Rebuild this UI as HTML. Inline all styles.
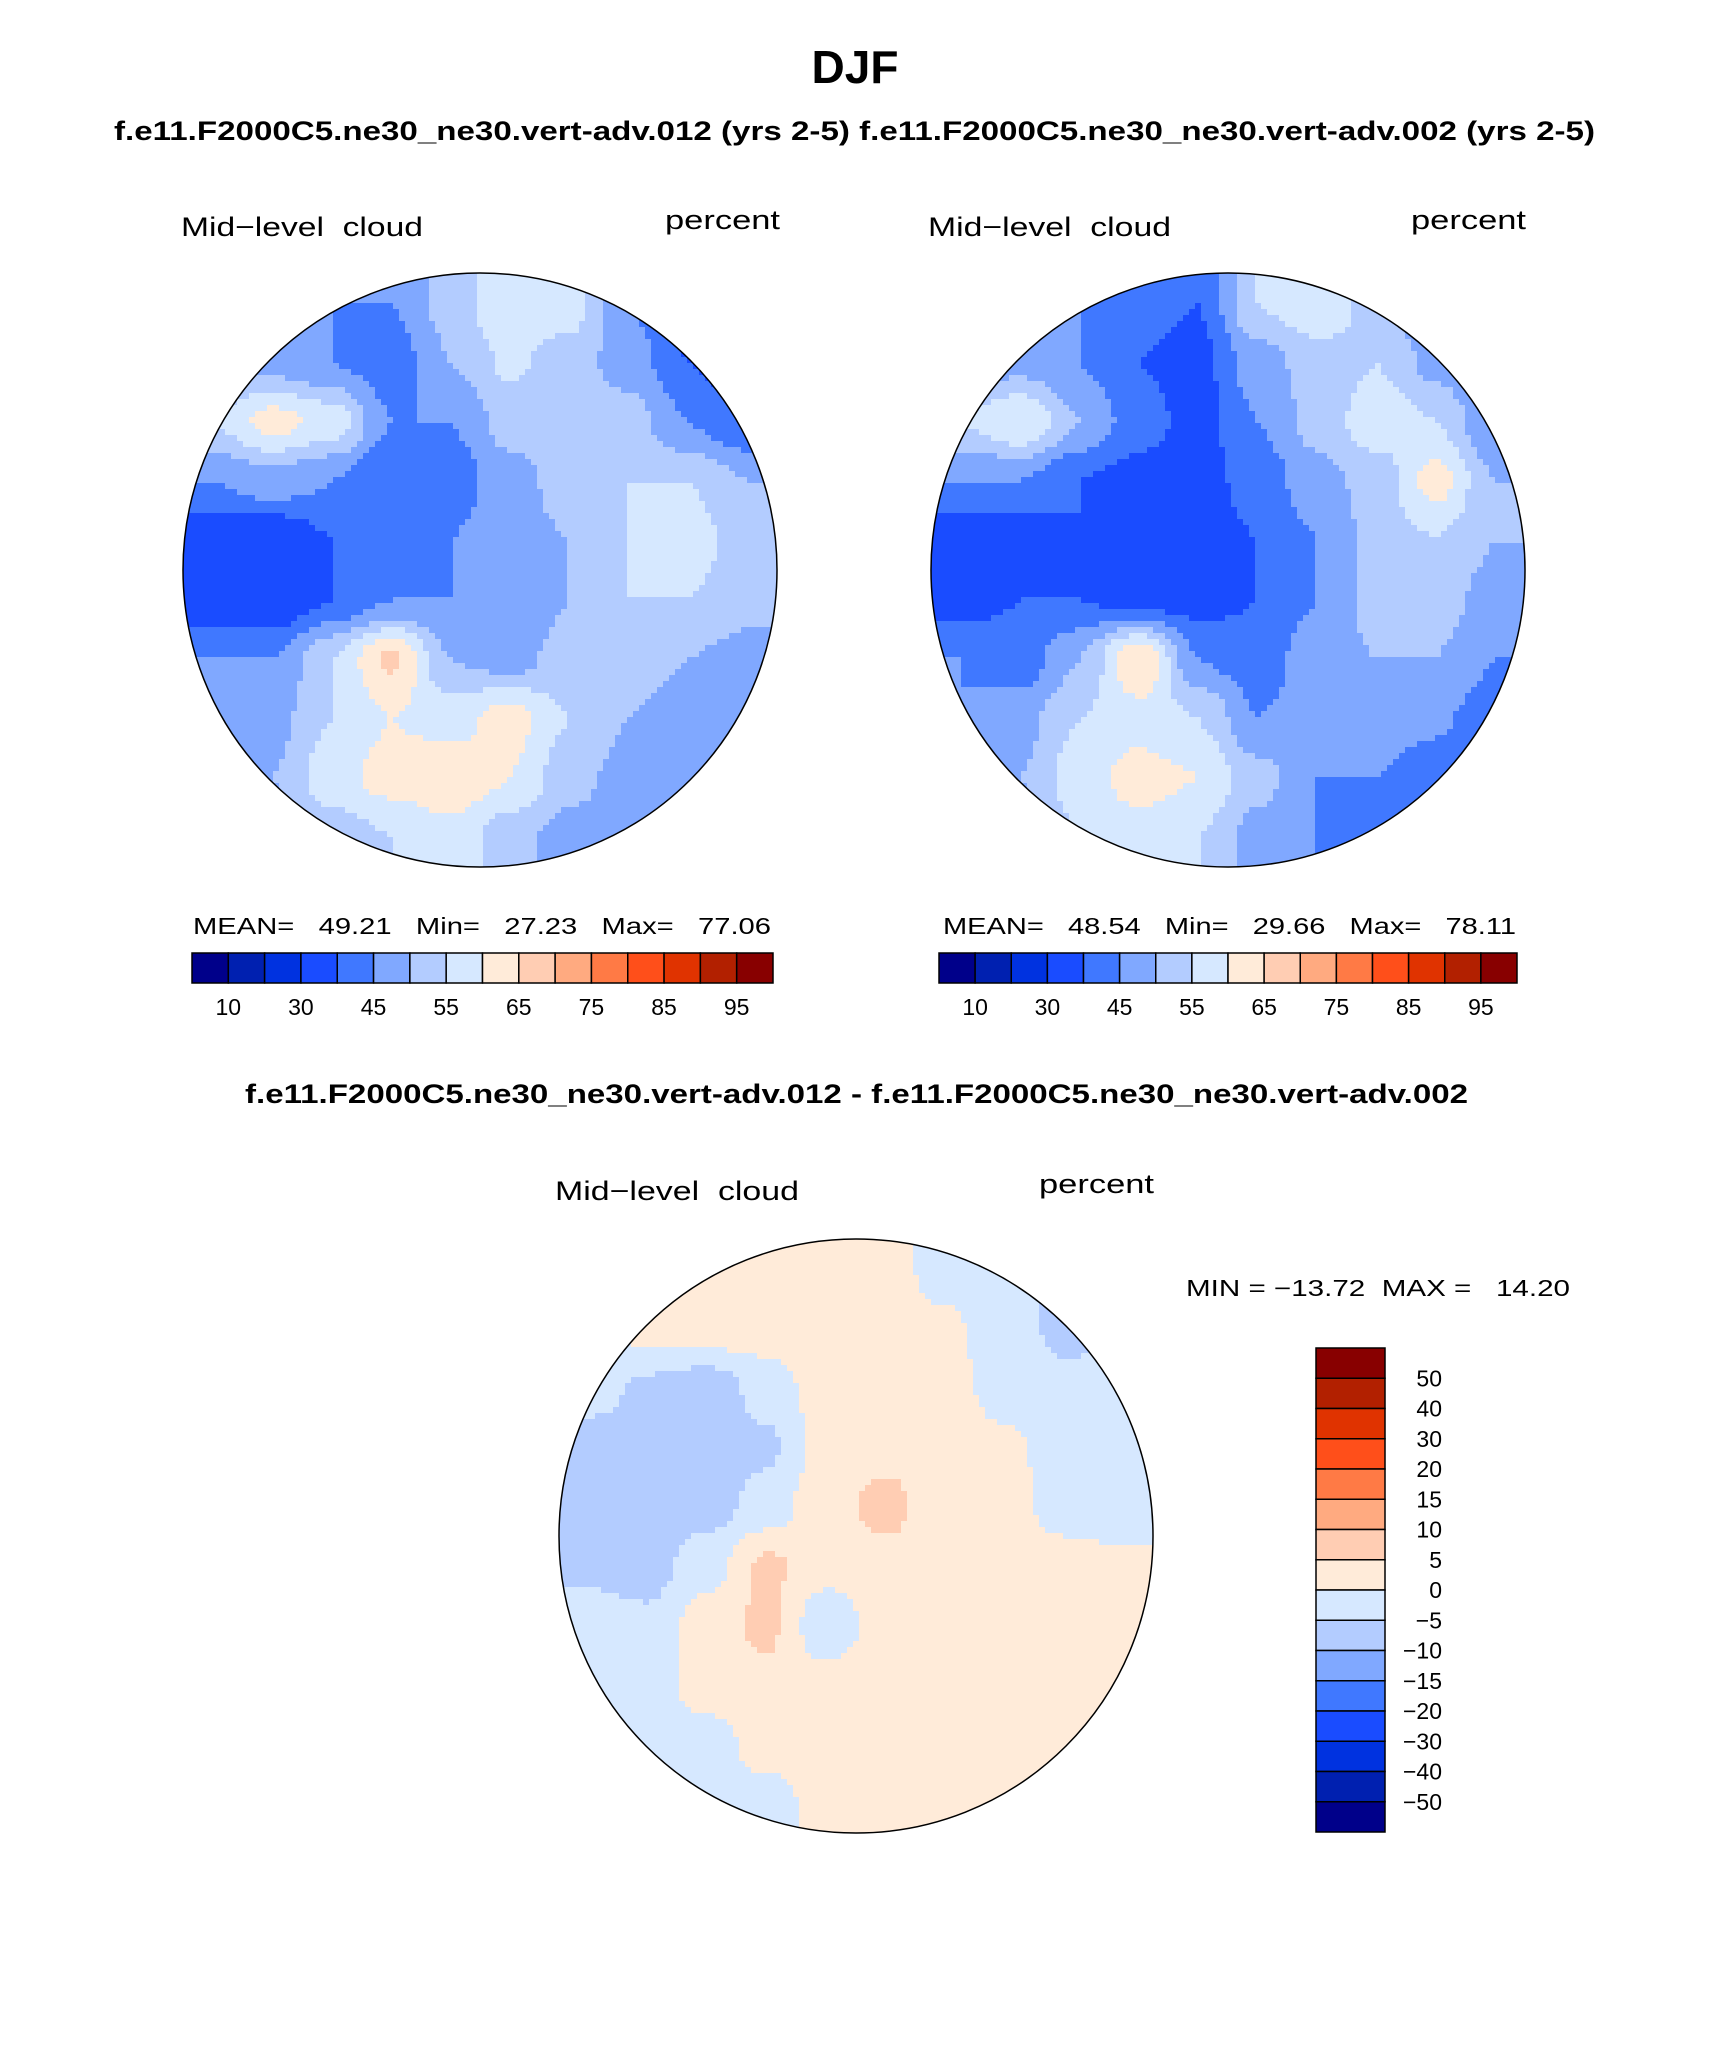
<!DOCTYPE html>
<html><head><meta charset="utf-8"><style>
html,body{margin:0;padding:0;background:#fff}
svg text{font-family:"Liberation Sans",sans-serif;white-space:pre}
</style></head><body>
<svg id="fig" width="1710" height="2061" xmlns="http://www.w3.org/2000/svg">
<rect width="1710" height="2061" fill="#fff"/>
<text x="855" y="83" font-size="46" font-weight="bold" text-anchor="middle">DJF</text>
<text x="114" y="140" font-size="27" font-weight="bold" textLength="1481" lengthAdjust="spacingAndGlyphs">f.e11.F2000C5.ne30_ne30.vert-adv.012 (yrs 2-5) f.e11.F2000C5.ne30_ne30.vert-adv.002 (yrs 2-5)</text>
<text x="245" y="1103" font-size="27" font-weight="bold" textLength="1223" lengthAdjust="spacingAndGlyphs">f.e11.F2000C5.ne30_ne30.vert-adv.012 - f.e11.F2000C5.ne30_ne30.vert-adv.002</text>
<g id="maps"></g>
<g id="bars"></g>
</svg>
<script>
// ---- data ----
const levelsAbs = [10,20,30,40,45,50,55,60,65,70,75,80,85,90,95];
const levelsDiff = [-50,-40,-30,-20,-15,-10,-5,0,5,10,15,20,30,40,50];
const colors = ["#00008a","#0020b0","#0032e0","#1a4cff","#4078ff","#80a8ff","#b3ccff","#d6e8ff","#ffebd9","#ffcdb3","#ffaa80","#ff7a45","#ff4f1a","#e03300","#b22000","#880000"];
const absTicks = ["10","30","45","55","65","75","85","95"];
const diffTicks = ["50","40","30","20","15","10","5","0","\u22125","\u221210","\u221215","\u221220","\u221230","\u221240","\u221250"];
const field1 = [
[45,45,45,45,52,60,58,45,38,35],
[48,48,45,42,50,56,52,48,40,35],
[55,62,58,45,45,52,55,52,45,40],
[45,48,45,40,42,48,52,55,55,50],
[35,35,40,42,45,48,50,55,58,52],
[35,35,40,45,45,45,50,55,55,52],
[45,45,55,66,50,48,52,52,50,48],
[45,48,55,60,58,62,55,50,48,45],
[45,50,58,62,64,60,52,48,45,45],
[45,48,52,55,58,52,48,45,45,45]];
const field2 = [
[45,45,45,42,40,55,60,52,45,40],
[48,48,45,40,38,48,52,55,48,42],
[55,60,50,42,38,45,52,58,55,45],
[45,45,40,38,38,42,48,52,62,50],
[35,35,40,38,38,40,45,52,55,50],
[38,40,40,38,38,40,45,52,52,48],
[45,42,50,65,45,42,48,50,50,45],
[45,48,55,58,55,45,48,48,46,42],
[45,50,58,62,60,52,45,45,42,42],
[45,48,55,58,55,48,45,42,42,42]];
const fieldDiff = [
[-2,-2,1,2,3,2,-2,-3,-6,-6],
[-2,2,3,3,4,2,1,-3,-6,-6],
[-3,-6,-8,-3,3,4,2,-2,-4,-3],
[-7,-8,-8,-6,2,4,3,1,-2,-3],
[-7,-9,-7,-3,4,6,3,2,-2,-3],
[-6,-7,-2,6,2,4,3,4,2,1],
[-3,-4,3,6,-4,3,3,2,2,2],
[-2,-2,2,4,2,4,3,2,2,3],
[-3,-3,-2,2,2,3,3,3,2,2],
[-2,-3,-3,-2,2,2,3,2,2,2]];
const stats1 = ["49.21","27.23","77.06"];
const stats2 = ["48.54","29.66","78.11"];
const statsDiff = ["\u221213.72","14.20"];

const NS="http://www.w3.org/2000/svg";
const svg=document.getElementById('fig');
function mk(tag,attrs,parent){const e=document.createElementNS(NS,tag);for(const k in attrs)e.setAttribute(k,attrs[k]);(parent||svg).appendChild(e);return e;}
function colorFor(v,lev){let i=0;while(i<lev.length&&v>=lev[i])i++;return colors[i];}
function sample(f,u,v){
  const n=f.length,x=Math.min(Math.max(u*n-0.5,0),n-1.001),y=Math.min(Math.max(v*n-0.5,0),n-1.001);
  const i=Math.floor(x),j=Math.floor(y),fx=x-i,fy=y-j;
  const a=f[j][i],b=f[j][i+1],c=f[j+1][i],d=f[j+1][i+1];
  const s=t=>t*t*(3-2*t);const gx=s(fx),gy=s(fy);
  return (a*(1-gx)+b*gx)*(1-gy)+(c*(1-gx)+d*gx)*gy;}
function drawMap(name,cx,cy,r,f,lev,unitX,unitY,tx,ty,tw,uw){
  const g=mk('g',{},document.getElementById('maps'));
  
  
  const cid=name+'-clip';
  const cp=mk('clipPath',{id:cid},g);mk('circle',{cx,cy,r},cp);
  const inner=mk('g',{'clip-path':'url(#'+cid+')'},g);
  const step=6,x0=cx-r,y0=cy-r;
  for(let y=0;y<2*r;y+=step){for(let x=0;x<2*r;x+=step){
    const dx=x+step/2-r,dy=y+step/2-r;if(dx*dx+dy*dy>(r+step)*(r+step))continue;
    const val=sample(f,(x+step/2)/(2*r),(y+step/2)/(2*r));
    mk('rect',{x:x0+x,y:y0+y,width:step+0.6,height:step+0.6,fill:colorFor(val,lev)},inner);}}
  const c=mk('circle',{cx,cy,r,fill:'none',stroke:'#000','stroke-width':1.5},g);
  
  
  const t=mk('text',{x:tx,y:ty,'font-size':27,textLength:tw,lengthAdjust:'spacingAndGlyphs'},g);t.textContent='Mid\u2212level  cloud';
  
  
  const u=mk('text',{x:unitX,y:unitY,'font-size':27,textLength:uw,lengthAdjust:'spacingAndGlyphs'},g);u.textContent='percent';
  
  
}
drawMap('map-case-012',480,570,297,field1,levelsAbs,665,229,181,236,242,115);
drawMap('map-case-002',1228,570,297,field2,levelsAbs,1411,229,928,236,243,115);
drawMap('map-difference',856,1536,297,fieldDiff,levelsDiff,1039,1193,555,1200,244,115);

function hbar(name,x0,x1,y0,y1,stats,sx0,sx1){
  const g=mk('g',{},document.getElementById('bars'));
  
  
  const w=(x1-x0)/colors.length;
  colors.forEach((c,i)=>{const r=mk('rect',{x:x0+i*w,y:y0,width:w,height:y1-y0,fill:c,stroke:'#000','stroke-width':1.5},g);
    
    });
  absTicks.forEach((t,k)=>{const i=1+2*k;const e=mk('text',{x:x0+i*w,y:y1+32,'font-size':23,'text-anchor':'middle'},g);e.textContent=t;
    
    });
  const s=mk('text',{x:sx0,y:934,'font-size':23,textLength:sx1-sx0,lengthAdjust:'spacingAndGlyphs'},g);
  s.textContent='MEAN=   '+stats[0]+'   Min=   '+stats[1]+'   Max=   '+stats[2];
  
  
}
hbar('colorbar-case-012',192,773,953,983,stats1,193,771);
hbar('colorbar-case-002',939,1517,953,983,stats2,943,1516);

(function(){
  const g=mk('g',{},document.getElementById('bars'));
  
  
  const x0=1316,x1=1385,y0=1348,y1=1832,h=(y1-y0)/colors.length;
  colors.slice().reverse().forEach((c,i)=>{const r=mk('rect',{x:x0,y:y0+i*h,width:x1-x0,height:h,fill:c,stroke:'#000','stroke-width':1.5},g);
    
    });
  diffTicks.forEach((t,k)=>{const e=mk('text',{x:1442,y:y0+(k+1)*h+8,'font-size':23,'text-anchor':'end'},g);e.textContent=t;
    
    });
  const s=mk('text',{x:1186,y:1296,'font-size':23,textLength:384,lengthAdjust:'spacingAndGlyphs'},g);
  s.textContent='MIN = '+statsDiff[0]+'  MAX =   '+statsDiff[1];
  
  
})();
</script>
</body></html>
